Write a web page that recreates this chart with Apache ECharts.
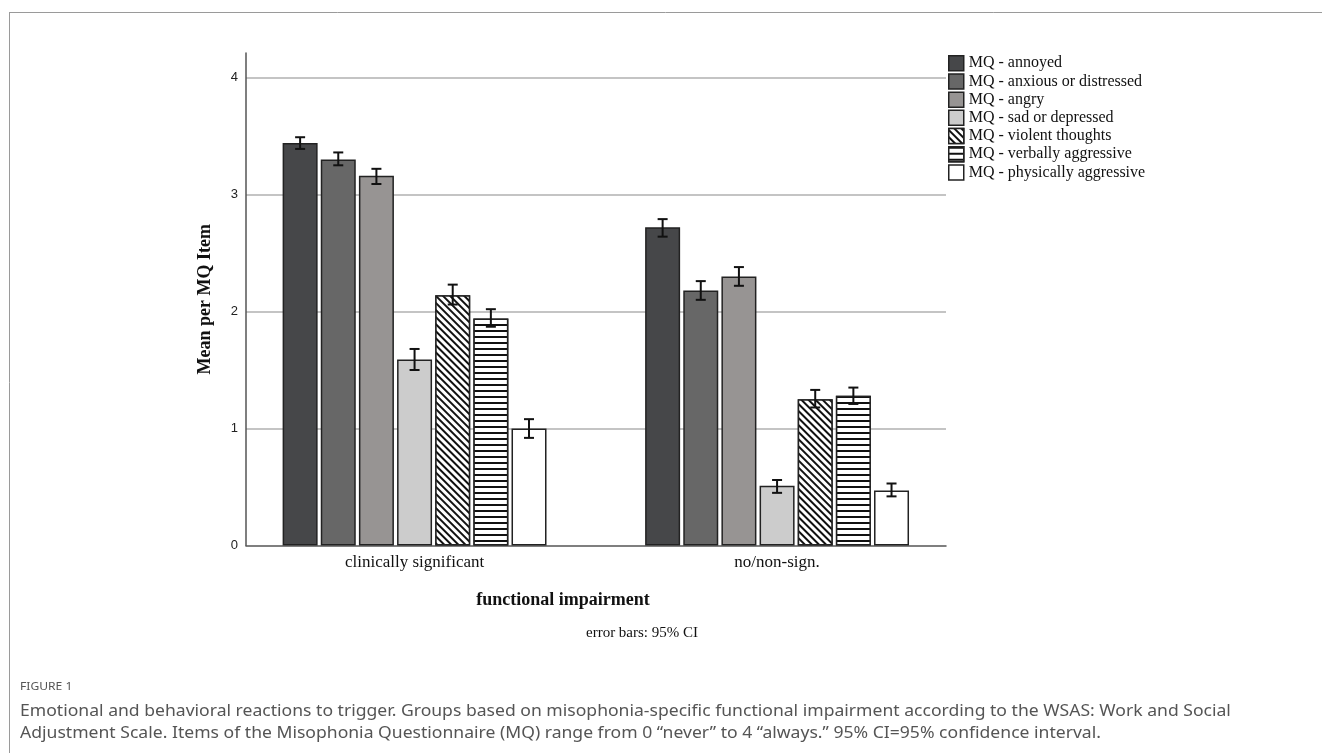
<!DOCTYPE html>
<html><head><meta charset="utf-8">
<script src="https://cdn.jsdelivr.net/npm/echarts@6/dist/echarts.min.js"></script>
<style>html,body{margin:0;padding:0;background:#fff}#c{width:1322px;height:753px}</style>
</head><body><div id="c"></div>
<script>
// ---- data ----
const categories = ['clinically significant', 'no/non-sign.'];
const groupX = [0, 1];
const seriesNames = ['MQ - annoyed', 'MQ - anxious or distressed', 'MQ - angry', 'MQ - sad or depressed',
  'MQ - violent thoughts', 'MQ - verbally aggressive', 'MQ - physically aggressive'];
const annoyedMean = [3.44, 2.72];
const anxiousMean = [3.30, 2.18];
const angryMean = [3.16, 2.30];
const sadMean = [1.59, 0.51];
const violentMean = [2.14, 1.25];
const verbalMean = [1.94, 1.28];
const physicalMean = [1.00, 0.47];
const annoyedCI = [[3.39, 3.49], [2.64, 2.79]];
const anxiousCI = [[3.25, 3.36], [2.10, 2.26]];
const angryCI = [[3.09, 3.22], [2.22, 2.38]];
const sadCI = [[1.50, 1.68], [0.45, 0.56]];
const violentCI = [[2.06, 2.23], [1.18, 1.33]];
const verbalCI = [[1.87, 2.02], [1.21, 1.35]];
const physicalCI = [[0.92, 1.08], [0.42, 0.53]];
const yTicks = [0, 1, 2, 3, 4];

const means = [annoyedMean, anxiousMean, angryMean, sadMean, violentMean, verbalMean, physicalMean];
const cis = [annoyedCI, anxiousCI, angryCI, sadCI, violentCI, verbalCI, physicalCI];

// ---- styles ----
const fills = ['#464749', '#676767', '#979493', '#cccccc', '#ffffff', '#ffffff', '#ffffff'];
const decals = [null, null, null, null,
  {symbol: 'rect', symbolSize: 1, dashArrayX: [1, 0], dashArrayY: [1.2, 2.8], rotation: Math.PI / 4, color: '#111', backgroundColor: '#fff'},
  {symbol: 'rect', symbolSize: 1, dashArrayX: [1, 0], dashArrayY: [1.5, 3.5], rotation: 0, color: '#111', backgroundColor: '#fff'},
  null];
const BAR_W = 35, GAP_PCT = 9;
const gapPx = BAR_W * GAP_PCT / 100;
const n = seriesNames.length;

const chart = echarts.init(document.getElementById('c'), null, {renderer: 'canvas'});

const barSeries = seriesNames.map((name, i) => {
  const s = {
    name, type: 'bar', barWidth: BAR_W, barGap: GAP_PCT + '%',
    data: categories.map((c, j) => [groupX[j], means[i][j]]),
    itemStyle: {color: fills[i], borderColor: '#222', borderWidth: 1.5},
    emphasis: {disabled: true}, silent: true
  };
  if (decals[i]) s.itemStyle.decal = decals[i];
  return s;
});

const ciData = [];
cis.forEach((ci, i) => ci.forEach((r, j) => ciData.push([groupX[j], r[0], r[1], i])));

const ciSeries = {
  type: 'custom', name: 'ci', silent: true, z: 10,
  data: ciData, encode: {x: 0, y: [1, 2]},
  renderItem: (params, api) => {
    const x = api.value(0), lo = api.value(1), hi = api.value(2), si = api.value(3);
    const off = (si - (n - 1) / 2) * (BAR_W + gapPx);
    const pLo = api.coord([x, lo]), pHi = api.coord([x, hi]);
    const cx = pLo[0] + off, cap = 5;
    const st = {stroke: '#111', lineWidth: 2};
    return {type: 'group', children: [
      {type: 'line', shape: {x1: cx, y1: pLo[1], x2: cx, y2: pHi[1]}, style: st},
      {type: 'line', shape: {x1: cx - cap, y1: pLo[1], x2: cx + cap, y2: pLo[1]}, style: st},
      {type: 'line', shape: {x1: cx - cap, y1: pHi[1], x2: cx + cap, y2: pHi[1]}, style: st}
    ]};
  }
};

const serif = '"Liberation Serif", "Times New Roman", serif';
const sans = '"Noto Sans", sans-serif';
const option = {
  animation: false,
  backgroundColor: '#fff',
  grid: {left: 246, right: 376, top: 53, bottom: 207.5, containLabel: false},
  legend: {
    data: seriesNames, orient: 'vertical', left: 943, top: 50, icon: 'rect',
    itemWidth: 15, itemHeight: 15, itemGap: 1.7, selectedMode: false,
    itemStyle: {borderColor: '#222', borderWidth: 1.5},
    textStyle: {fontFamily: serif, fontSize: 16, color: '#111', lineHeight: 16}
  },
  xAxis: {
    type: 'value', min: -0.465, max: 1.466,
    axisLine: {show: true, onZero: false, lineStyle: {color: '#555', width: 1.5}},
    axisTick: {show: false}, splitLine: {show: false},
    axisLabel: {
      customValues: groupX,
      formatter: v => { const k = groupX.indexOf(v); return k >= 0 ? categories[k] : ''; },
      fontFamily: serif, fontSize: 17, color: '#111', margin: 9
    }
  },
  yAxis: {
    type: 'value', min: 0, max: 4.21, interval: 1,
    axisLine: {show: true, onZero: false, lineStyle: {color: '#555', width: 1.5}},
    axisTick: {show: false},
    splitLine: {show: true, showMinLine: false, showMaxLine: false, lineStyle: {color: '#c4c4c4', width: 2}},
    axisLabel: {
      formatter: v => yTicks.indexOf(v) >= 0 ? String(v) : '',
      fontFamily: '"Liberation Sans", Arial, sans-serif', fontSize: 13, color: '#222', margin: 8
    },
    name: 'Mean per MQ Item', nameLocation: 'middle', nameGap: 32,
    nameTextStyle: {fontFamily: serif, fontWeight: 'bold', fontSize: 18, color: '#111'}
  },
  graphic: [
    {type: 'line', shape: {x1: 9, y1: 12.5, x2: 1322, y2: 12.5}, style: {stroke: '#9a9a9a', lineWidth: 1}, silent: true},
    {type: 'line', shape: {x1: 9.5, y1: 12, x2: 9.5, y2: 753}, style: {stroke: '#9a9a9a', lineWidth: 1}, silent: true},
    {type: 'text', x: 563, y: 600, style: {text: 'functional impairment', font: 'bold 18px ' + serif, fill: '#111', textAlign: 'center', textVerticalAlign: 'middle'}},
    {type: 'text', x: 642, y: 633, style: {text: 'error bars: 95% CI', font: '15px ' + serif, fill: '#111', textAlign: 'center', textVerticalAlign: 'middle'}},
    {type: 'text', x: 20, y: 687, scaleX: 1.1, style: {text: 'FIGURE 1', font: '11px ' + sans, fill: '#555', textAlign: 'left', textVerticalAlign: 'middle'}},
    {type: 'text', x: 20, y: 711, scaleX: 1.098, style: {text: 'Emotional and behavioral reactions to trigger. Groups based on misophonia-specific functional impairment according to the WSAS: Work and Social', font: '16px ' + sans, fill: '#555', textAlign: 'left', textVerticalAlign: 'middle'}},
    {type: 'text', x: 20, y: 733, scaleX: 1.098, style: {text: 'Adjustment Scale. Items of the Misophonia Questionnaire (MQ) range from 0 \u201cnever\u201d to 4 \u201calways.\u201d 95% CI=95% confidence interval.', font: '16px ' + sans, fill: '#555', textAlign: 'left', textVerticalAlign: 'middle'}}
  ],
  series: barSeries.concat([ciSeries])
};
chart.setOption(option);
</script>
</body></html>
